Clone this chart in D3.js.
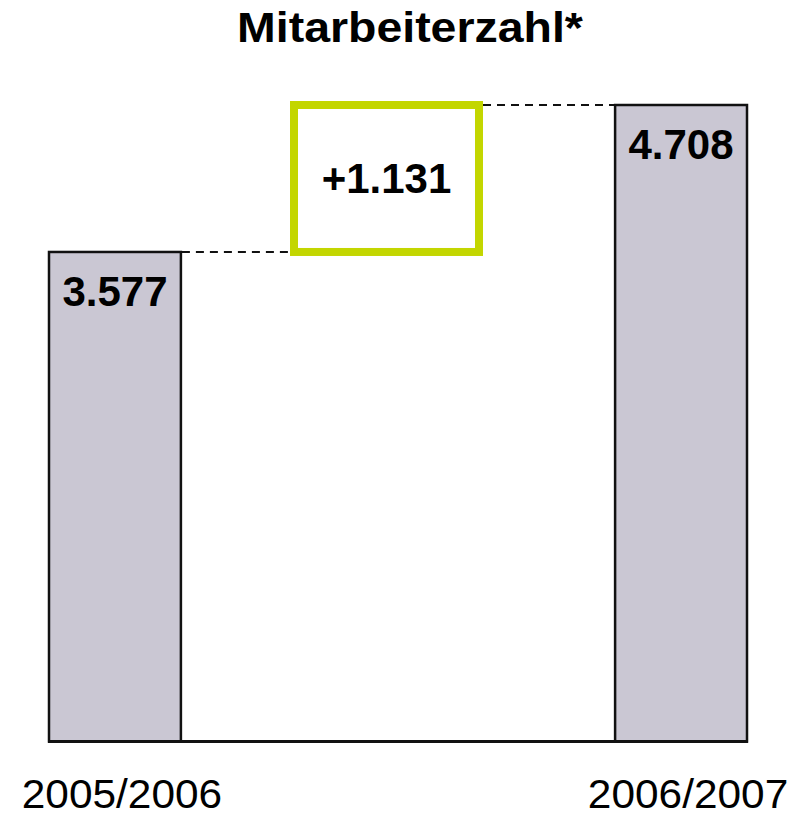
<!DOCTYPE html>
<html>
<head>
  <meta charset="utf-8">
  <title>Mitarbeiterzahl</title>
  <script src="https://d3js.org/d3.v7.min.js"></script>
  <style>
    body { margin: 0; background: #fff; }
    text { font-family: "Liberation Sans", Arial, Helvetica, sans-serif; }
  </style>
</head>
<body>
  <svg id="grafico"></svg>

  <script>
    // daten
    const jahre = ["2005/2006", "2006/2007"];
    const mitarbeiter = [3577, 4708];
    const wertLabels = ["3.577", "4.708"];
    const deltaLabel = "+1.131";
    const titel = "Mitarbeiterzahl*";
    const achsenMin = -190; // achse beginnt nicht bei null

    const breite = 798, hoehe = 817;

    const svg = d3.select("#grafico")
      .attr("width", breite)
      .attr("height", hoehe);

    const x = d3.scaleBand()
      .domain(jahre)
      .range([49, 747])
      .paddingInner(0.767)
      .paddingOuter(0);

    const y = d3.scaleLinear()
      .domain([achsenMin, d3.max(mitarbeiter)])
      .range([741.5, 105]);

    const balken = jahre.map((j, i) => ({ jahr: j, wert: mitarbeiter[i], label: wertLabels[i] }));

    // titel
    svg.append("text")
      .attr("transform", "translate(410,42) scale(1.08,1)")
      .attr("text-anchor", "middle")
      .style("font-size", "43px")
      .style("font-weight", "bold")
      .text(titel);

    // balken
    svg.selectAll(".balken")
      .data(balken)
      .enter()
      .append("rect")
      .attr("class", "balken")
      .attr("x", d => x(d.jahr))
      .attr("y", d => y(d.wert))
      .attr("width", x.bandwidth())
      .attr("height", d => y(achsenMin) - y(d.wert))
      .style("fill", "#cac7d3")
      .style("stroke", "#111")
      .style("stroke-width", 2.5);

    // grundlinie
    svg.append("line")
      .attr("x1", x(jahre[0]) - 1)
      .attr("x2", x(jahre[1]) + x.bandwidth() + 1)
      .attr("y1", y(achsenMin))
      .attr("y2", y(achsenMin))
      .style("stroke", "#111")
      .style("stroke-width", 3);

    // differenz-box
    const boxLinks = 294, boxRechts = 479;
    svg.append("rect")
      .attr("x", boxLinks)
      .attr("y", y(mitarbeiter[1]))
      .attr("width", boxRechts - boxLinks)
      .attr("height", y(mitarbeiter[0]) - y(mitarbeiter[1]))
      .style("fill", "none")
      .style("stroke", "#c3d600")
      .style("stroke-width", 8);

    svg.append("text")
      .attr("x", (boxLinks + boxRechts) / 2)
      .attr("y", (y(mitarbeiter[0]) + y(mitarbeiter[1])) / 2 + 15)
      .attr("text-anchor", "middle")
      .style("font-size", "42px")
      .style("font-weight", "bold")
      .text(deltaLabel);

    // gestrichelte verbindungen
    const verbindungen = [
      { x1: x(jahre[0]) + x.bandwidth() + 1, x2: boxLinks - 4, y: Math.round(y(mitarbeiter[0])) },
      { x1: boxRechts + 4, x2: x(jahre[1]) - 1, y: Math.round(y(mitarbeiter[1])) }
    ];
    svg.selectAll(".verbindung")
      .data(verbindungen)
      .enter()
      .append("line")
      .attr("class", "verbindung")
      .attr("x1", d => d.x1)
      .attr("x2", d => d.x2)
      .attr("y1", d => d.y)
      .attr("y2", d => d.y)
      .style("stroke", "#111")
      .style("stroke-width", 2)
      .style("stroke-dasharray", "8,6");

    // wertbeschriftungen
    svg.selectAll(".wert")
      .data(balken)
      .enter()
      .append("text")
      .attr("class", "wert")
      .attr("x", d => x(d.jahr) + x.bandwidth() / 2)
      .attr("y", d => y(d.wert) + 54)
      .attr("text-anchor", "middle")
      .style("font-size", "42px")
      .style("font-weight", "bold")
      .text(d => d.label);

    // x-achsen beschriftungen
    svg.selectAll(".jahr")
      .data(jahre)
      .enter()
      .append("text")
      .attr("class", "jahr")
      .attr("transform", d => `translate(${x(d) + x.bandwidth() / 2 + 7},808) scale(1.06,1)`)
      .attr("text-anchor", "middle")
      .style("font-size", "40px")
      .text(d => d);
  </script>
</body>
</html>
